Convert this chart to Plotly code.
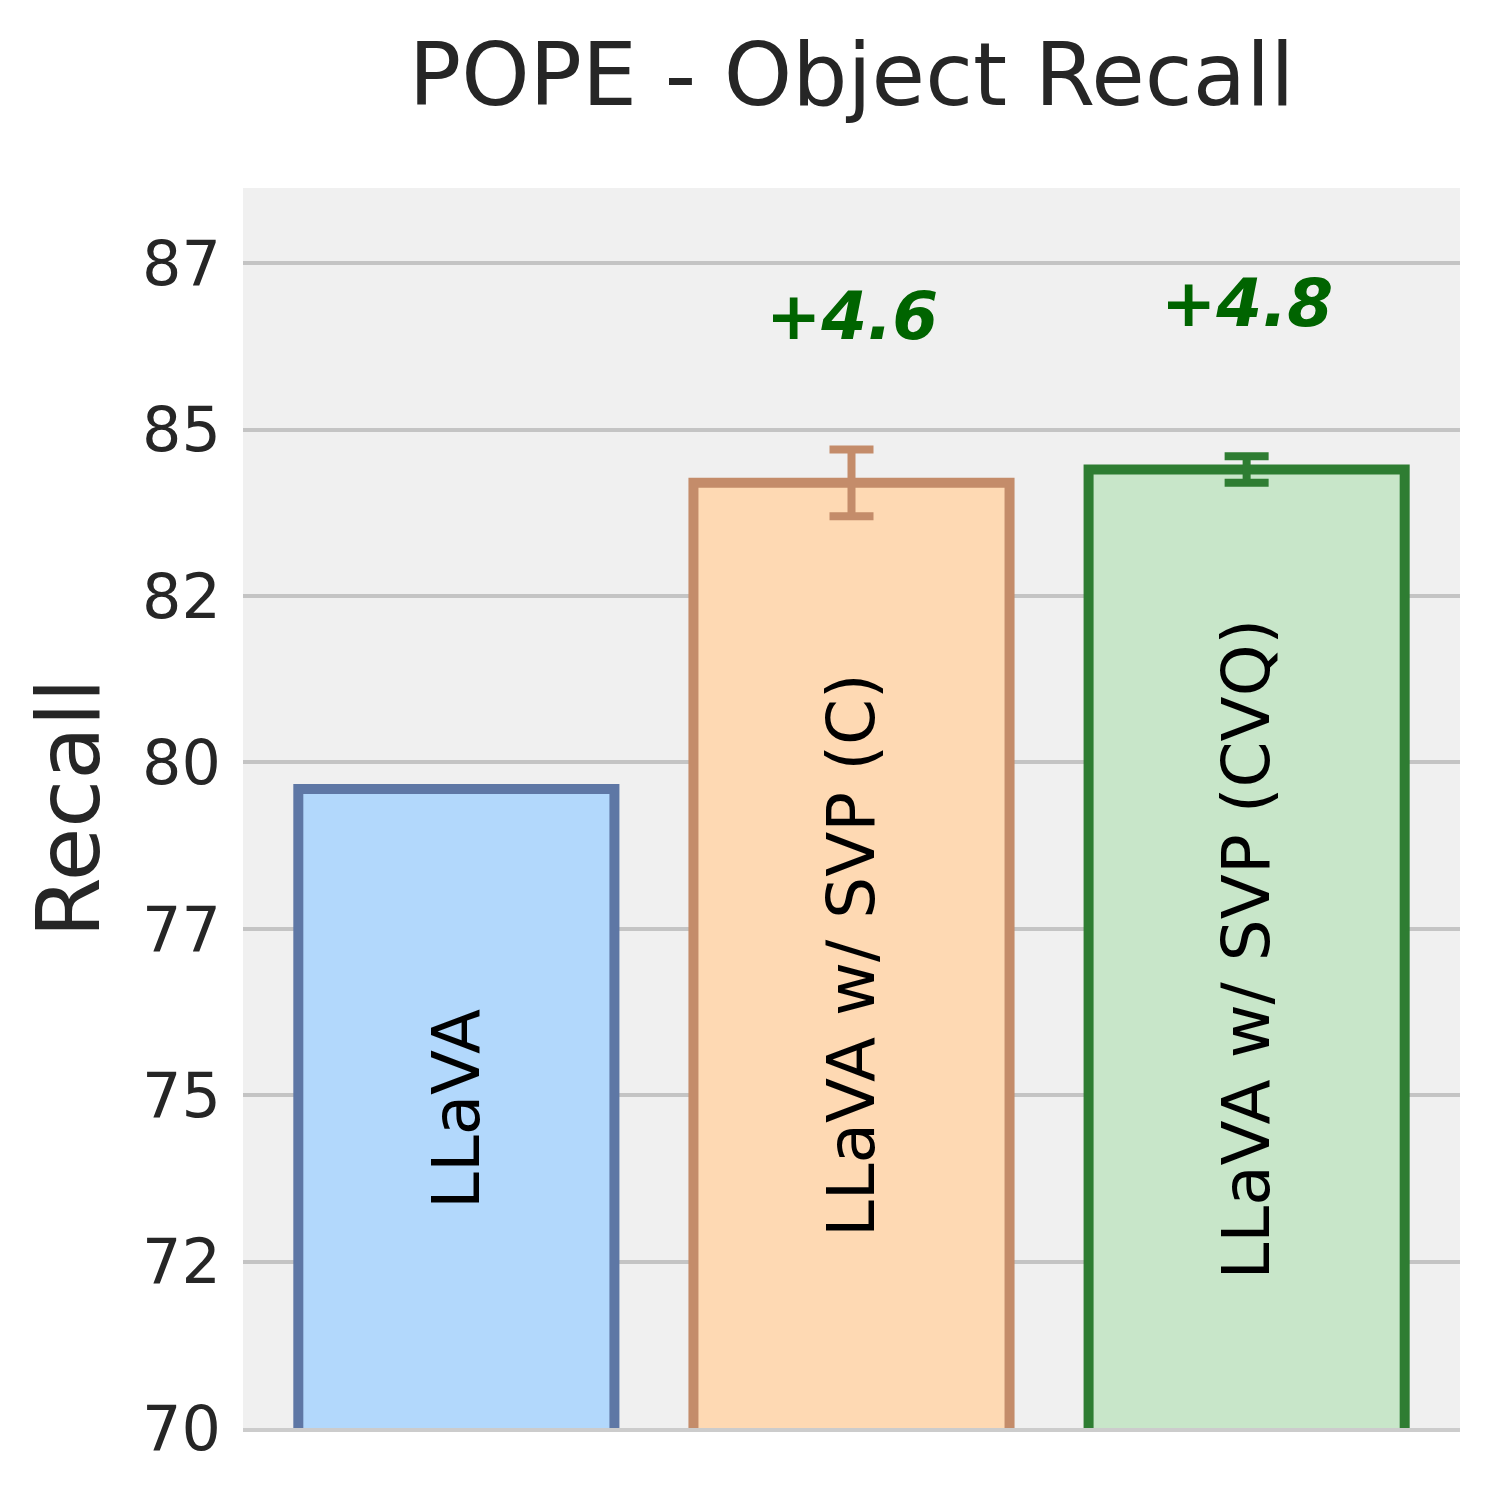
import plotly.graph_objects as go

# data
models = ["LLaVA", "LLaVA w/ SVP (C)", "LLaVA w/ SVP (CVQ)"]
recall = [79.6, 84.2, 84.4]
recall_err = [0.0, 0.5, 0.2]
tick_vals = [70, 72.5, 75, 77.5, 80, 82.5, 85, 87.5]
tick_text = [str(int(v)) for v in tick_vals]

fill_colors = ["#b2d8fc", "#fed9b3", "#c8e6c9"]
edge_colors = ["#5e77a5", "#c48c6a", "#2e7d32"]
font_family = "DejaVu Sans"
y_min, y_max = 70, 88.63

fig = go.Figure()

for i in range(len(models)):
    # bars start at 0 and get clipped by the axis range, like the original
    fig.add_trace(go.Bar(
        x=[i], y=[recall[i]], width=0.8,
        marker=dict(color=fill_colors[i], line=dict(color=edge_colors[i], width=10)),
        error_y=dict(type="data", array=[recall_err[i]], visible=recall_err[i] > 0,
                     color=edge_colors[i], thickness=8, width=22),
        showlegend=False,
    ))
    # model name written inside the bar
    fig.add_annotation(x=i, y=(y_min + recall[i]) / 2, text=models[i], textangle=-90,
                       showarrow=False, font=dict(family=font_family, size=66, color="black"))
    # gain over the baseline
    if i > 0:
        gain = recall[i] - recall[0]
        fig.add_annotation(x=i, y=recall[i] + 2.5, text="+{:.1f}".format(gain), showarrow=False,
                           font=dict(family=font_family, size=66, color="#006400",
                                     weight="bold", style="italic"))

fig.update_layout(
    width=1500, height=1501,
    margin=dict(l=235, r=48, t=180, b=81),
    paper_bgcolor="white", plot_bgcolor="#f0f0f0",
    barmode="overlay",
    title=dict(text="POPE - Object Recall", x=0.5, xref="paper", y=1 - 67 / 1501,
               yref="container", yanchor="middle", xanchor="center",
               font=dict(family=font_family, size=87, color="#262626")),
    font=dict(family=font_family, color="#262626"),
)
fig.update_xaxes(range=[-0.54, 2.54], showticklabels=False, showgrid=False, zeroline=False,
                 ticks="", showline=True, linecolor="#cccccc", linewidth=4)
fig.update_yaxes(range=[y_min, y_max], tickvals=tick_vals, ticktext=tick_text,
                 tickfont=dict(size=62, color="#262626"), ticks="", ticklabelstandoff=21,
                 showgrid=True, gridcolor="#c4c4c4", gridwidth=4, zeroline=False,
                 title=dict(text="Recall", font=dict(size=87, color="#262626"), standoff=13))

fig.write_html("out.html")
